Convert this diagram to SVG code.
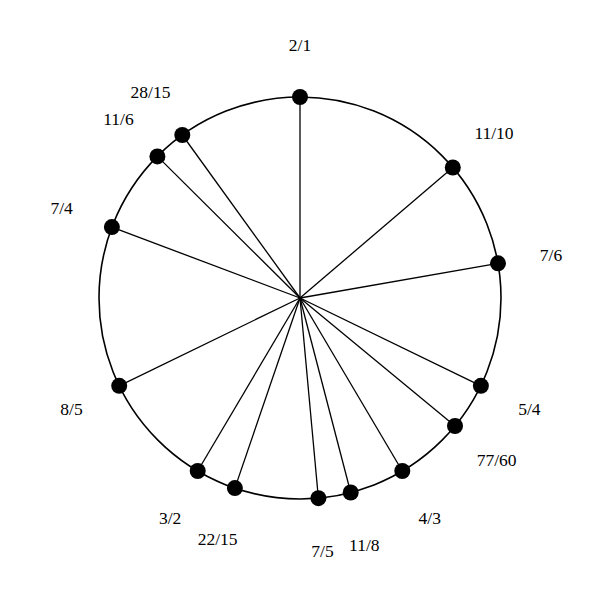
<svg xmlns="http://www.w3.org/2000/svg" width="600" height="600" viewBox="0 0 600 600">
<style>
.spoke{stroke:#000;stroke-width:1.3;fill:none}
.dot{fill:#000}
.lbl{font-family:"Liberation Serif",serif;font-size:17.5px;text-anchor:middle;dominant-baseline:central;fill:#000}
</style>
<rect width="600" height="600" fill="#fff"/>
<circle cx="300" cy="298" r="201" fill="none" stroke="#000" stroke-width="1.6"/>
<g id="connectors">
<line class="spoke" x1="300" y1="298" x2="300" y2="97"/>
<line class="spoke" x1="300" y1="298" x2="452.8" y2="167.5"/>
<line class="spoke" x1="300" y1="298" x2="498" y2="263.3"/>
<line class="spoke" x1="300" y1="298" x2="480.9" y2="385.8"/>
<line class="spoke" x1="300" y1="298" x2="455" y2="426"/>
<line class="spoke" x1="300" y1="298" x2="402.3" y2="471"/>
<line class="spoke" x1="300" y1="298" x2="350.7" y2="492.5"/>
<line class="spoke" x1="300" y1="298" x2="318.4" y2="498.2"/>
<line class="spoke" x1="300" y1="298" x2="234.9" y2="488.1"/>
<line class="spoke" x1="300" y1="298" x2="197.7" y2="471"/>
<line class="spoke" x1="300" y1="298" x2="119.2" y2="385.8"/>
<line class="spoke" x1="300" y1="298" x2="111.9" y2="227.1"/>
<line class="spoke" x1="300" y1="298" x2="157.4" y2="156.4"/>
<line class="spoke" x1="300" y1="298" x2="182.3" y2="135"/>
</g>
<g id="n2_1"><circle class="dot" cx="300" cy="97" r="8"/><text class="lbl" x="300" y="45">2/1</text></g>
<g id="n11_10"><circle class="dot" cx="452.8" cy="167.5" r="8"/><text class="lbl" x="494" y="133">11/10</text></g>
<g id="n7_6"><circle class="dot" cx="498" cy="263.3" r="8"/><text class="lbl" x="551" y="254.5">7/6</text></g>
<g id="n5_4"><circle class="dot" cx="480.9" cy="385.8" r="8"/><text class="lbl" x="529.4" y="409.4">5/4</text></g>
<g id="n77_60"><circle class="dot" cx="455" cy="426" r="8"/><text class="lbl" x="496.6" y="460.4">77/60</text></g>
<g id="n4_3"><circle class="dot" cx="402.3" cy="471" r="8"/><text class="lbl" x="429.8" y="517.5">4/3</text></g>
<g id="n11_8"><circle class="dot" cx="350.7" cy="492.5" r="8"/><text class="lbl" x="364.3" y="544.8">11/8</text></g>
<g id="n7_5"><circle class="dot" cx="318.4" cy="498.2" r="8"/><text class="lbl" x="322.5" y="550.5">7/5</text></g>
<g id="n22_15"><circle class="dot" cx="234.9" cy="488.1" r="8"/><text class="lbl" x="217.6" y="539.2">22/15</text></g>
<g id="n3_2"><circle class="dot" cx="197.7" cy="471" r="8"/><text class="lbl" x="170.2" y="517.5">3/2</text></g>
<g id="n8_5"><circle class="dot" cx="119.2" cy="385.8" r="8"/><text class="lbl" x="71.5" y="409.4">8/5</text></g>
<g id="n7_4"><circle class="dot" cx="111.9" cy="227.1" r="8"/><text class="lbl" x="61.6" y="208.1">7/4</text></g>
<g id="n11_6"><circle class="dot" cx="157.4" cy="156.4" r="8"/><text class="lbl" x="118.5" y="119">11/6</text></g>
<g id="n28_15"><circle class="dot" cx="182.3" cy="135" r="8"/><text class="lbl" x="150.5" y="91.5">28/15</text></g>
</svg>
